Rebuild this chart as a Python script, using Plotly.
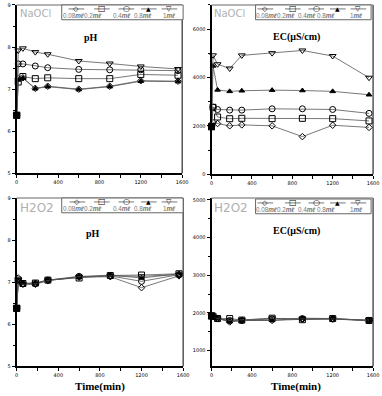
import plotly.graph_objects as go

W, H = 382, 396

time_min = [0, 15, 60, 180, 300, 600, 900, 1200, 1560]
dose_labels = ["0.08", "0.2", "0.4", "0.8", "1"]

# NaOCl pH
naocl_ph_008 = [6.38, 7.25, 7.27, 7.02, 7.07, 7.00, 7.07, 7.20, 7.19]
naocl_ph_02 = [6.38, 7.17, 7.30, 7.25, 7.27, 7.25, 7.25, 7.35, 7.33]
naocl_ph_04 = [6.38, 7.60, 7.60, 7.55, 7.51, 7.47, 7.46, 7.46, 7.44]
naocl_ph_08 = [6.38, 7.22, 7.26, 7.01, 7.06, 6.99, 7.06, 7.19, 7.18]
naocl_ph_1 = [6.38, 7.92, 7.97, 7.88, 7.83, 7.67, 7.61, 7.54, 7.48]

# NaOCl EC (uS/cm)
naocl_ec_008 = [1970, 2140, 2100, 2005, 2045, 2005, 1560, 2030, 1940]
naocl_ec_02 = [1970, 2770, 2370, 2300, 2316, 2303, 2316, 2303, 2208]
naocl_ec_04 = [1970, 2780, 2680, 2655, 2655, 2709, 2709, 2682, 2520]
naocl_ec_08 = [1970, 4480, 3490, 3430, 3455, 3480, 3465, 3430, 3290]
naocl_ec_1 = [1970, 4920, 4550, 4375, 4917, 5010, 5120, 4890, 3995]

# H2O2 pH
h2o2_ph_008 = [6.38, 7.10, 6.96, 6.95, 7.04, 7.12, 7.13, 6.87, 7.15]
h2o2_ph_02 = [6.38, 7.05, 6.97, 6.98, 7.05, 7.10, 7.16, 7.17, 7.20]
h2o2_ph_04 = [6.38, 7.03, 6.96, 6.97, 7.05, 7.14, 7.15, 7.02, 7.18]
h2o2_ph_08 = [6.38, 7.02, 6.97, 6.98, 7.05, 7.12, 7.17, 7.10, 7.20]
h2o2_ph_1 = [6.38, 7.05, 6.95, 6.96, 7.04, 7.13, 7.15, 7.14, 7.18]

# H2O2 EC (uS/cm)
h2o2_ec_008 = [1920, 1900, 1860, 1760, 1800, 1800, 1830, 1840, 1790]
h2o2_ec_02 = [1920, 1910, 1850, 1850, 1810, 1860, 1820, 1850, 1800]
h2o2_ec_04 = [1920, 1900, 1850, 1800, 1800, 1840, 1850, 1840, 1800]
h2o2_ec_08 = [1920, 1890, 1850, 1770, 1800, 1800, 1860, 1850, 1800]
h2o2_ec_1 = [1920, 1900, 1850, 1800, 1810, 1850, 1840, 1840, 1810]

panels = [
    dict(series=[naocl_ph_008, naocl_ph_02, naocl_ph_04, naocl_ph_08, naocl_ph_1],
         px=(15, 184), py=(2, 173), yrange=[5, 9], ytickvals=[5, 6, 7, 8, 9], yminor=0.5,
         name="NaOCl", name_size=10, title="pH", title_xy=(91, 35),
         legbox=(61, 185, 2, 17), sym_x=[76, 102, 127, 150, 171], lab_x=[73, 93, 123, 144, 171]),
    dict(series=[naocl_ec_008, naocl_ec_02, naocl_ec_04, naocl_ec_08, naocl_ec_1],
         px=(214, 379), py=(2, 174), yrange=[0, 7000], ytickvals=[0, 2000, 4000, 6000], yminor=1000,
         name="NaOCl", name_size=10, title="EC(μS/cm)", title_xy=(301, 35),
         legbox=(259, 377, 2, 17), sym_x=[269, 297, 321, 343, 364], lab_x=[270, 290, 312, 331, 362]),
    dict(series=[h2o2_ph_008, h2o2_ph_02, h2o2_ph_04, h2o2_ph_08, h2o2_ph_1],
         px=(15, 185), py=(198, 369), yrange=[5, 9], ytickvals=[5, 6, 7, 8, 9], yminor=0.5,
         name="H2O2", name_size=12, title="pH", title_xy=(93, 234),
         legbox=(61, 185, 198, 213), sym_x=[77, 102, 127, 150, 171], lab_x=[73, 93, 123, 144, 171]),
    dict(series=[h2o2_ec_008, h2o2_ec_02, h2o2_ec_04, h2o2_ec_08, h2o2_ec_1],
         px=(214, 379), py=(198, 369), yrange=[580, 5050], ytickvals=[1000, 2000, 3000, 4000, 5000], yminor=500,
         name="H2O2", name_size=12, title="EC(μS/cm)", title_xy=(301, 231),
         legbox=(259, 377, 199, 214), sym_x=[269, 297, 321, 343, 364], lab_x=[270, 290, 312, 331, 362]),
]

symbols = ["diamond-open", "square-open", "circle-open", "triangle-up", "triangle-down-open"]
sizes = [5, 6, 6, 5, 6]
leg_glyphs = ["◇", "□", "○", "▲", "▽"]
leg_glyph_sizes = [7, 8, 8, 6, 7]

def fx(p):
    return p / W

def fy(p):
    return 1 - p / H

fig = go.Figure()
shapes = []
annotations = []
layout = {}

for i, pn in enumerate(panels):
    k = "" if i == 0 else str(i + 1)
    xa, ya = "x" + k, "y" + k
    for j, s in enumerate(pn["series"]):
        fig.add_trace(go.Scatter(
            x=time_min, y=s, xaxis=xa, yaxis=ya, mode="lines+markers",
            line=dict(color="#555555", width=0.8),
            marker=dict(symbol=symbols[j], size=sizes[j], color="black",
                        line=dict(color="black", width=1)),
            showlegend=False, cliponaxis=False))
    # initial value (filled square)
    first = pn["series"][0]
    fig.add_trace(go.Scatter(
        x=time_min[:1], y=first[:1], xaxis=xa, yaxis=ya, mode="markers",
        marker=dict(symbol="square", size=7, color="black"),
        showlegend=False, cliponaxis=False))

    layout["xaxis" + k] = dict(
        domain=[fx(pn["px"][0]), fx(pn["px"][1])], anchor=ya, range=[0, 1600],
        tickvals=[0, 400, 800, 1200, 1600], ticks="outside", ticklen=3, tickwidth=1,
        minor=dict(dtick=200, tick0=0, ticks="outside", ticklen=3, tickwidth=1, tickcolor="black"),
        showline=True, linecolor="black", linewidth=1.5, showgrid=False, zeroline=False,
        tickfont=dict(size=5, color="black", family="DejaVu Sans"), tickcolor="black")
    layout["yaxis" + k] = dict(
        domain=[fy(pn["py"][1]), fy(pn["py"][0])], anchor=xa, range=pn["yrange"],
        tickvals=pn["ytickvals"], ticks="outside", ticklen=3, tickwidth=1,
        minor=dict(dtick=pn["yminor"], ticks="outside", ticklen=2, tickwidth=1, tickcolor="black"),
        showline=True, linecolor="black", linewidth=2, showgrid=False, zeroline=False,
        tickfont=dict(size=5, color="black", family="DejaVu Sans"), tickcolor="black")

    # right and top borders
    shapes.append(dict(type="line", xref="paper", yref="paper",
                       x0=fx(pn["px"][1]), x1=fx(pn["px"][1]), y0=fy(pn["py"][1]), y1=fy(pn["py"][0]),
                       line=dict(color="black", width=1)))
    shapes.append(dict(type="line", xref="paper", yref="paper",
                       x0=fx(pn["px"][0]), x1=fx(pn["px"][1]), y0=fy(pn["py"][0]), y1=fy(pn["py"][0]),
                       line=dict(color="#999999", width=1.5)))

    # panel name
    annotations.append(dict(text=pn["name"], xref="paper", yref="paper",
                            x=fx(pn["px"][0] + 1), y=fy(pn["py"][0] + 1), xanchor="left", yanchor="top",
                            showarrow=False, font=dict(size=pn["name_size"], color="#b0b0b0", family="DejaVu Sans")))
    # title
    annotations.append(dict(text="<b>" + pn["title"] + "</b>", xref="paper", yref="paper",
                            x=fx(pn["title_xy"][0]), y=fy(pn["title_xy"][1]), xanchor="center", yanchor="middle",
                            showarrow=False, font=dict(size=10, color="black", family="Liberation Serif")))
    # legend box
    lx0, lx1, ly0, ly1 = pn["legbox"]
    shapes.append(dict(type="rect", xref="paper", yref="paper",
                       x0=fx(lx0), x1=fx(lx1), y0=fy(ly1), y1=fy(ly0),
                       line=dict(color="#666666", width=1), fillcolor="white"))
    sy = ly0 + 4
    for j, d in enumerate(dose_labels):
        cx = pn["sym_x"][j]
        shapes.append(dict(type="line", xref="paper", yref="paper",
                           x0=fx(cx - 8), x1=fx(cx + 8), y0=fy(sy), y1=fy(sy),
                           line=dict(color="#555555", width=0.8)))
        annotations.append(dict(text=leg_glyphs[j], xref="paper", yref="paper",
                                x=fx(cx), y=fy(sy), xanchor="center", yanchor="middle", showarrow=False,
                                font=dict(size=leg_glyph_sizes[j], color="black", family="DejaVu Sans"),
                                borderpad=0))
        annotations.append(dict(text=d + "<b><i>mℓ</i></b>", xref="paper", yref="paper",
                                x=fx(pn["lab_x"][j]), y=fy(ly0 + 11), xanchor="center", yanchor="middle",
                                showarrow=False, borderpad=0,
                                font=dict(size=6.3, color="#777777", family="Liberation Sans")))

# x-axis titles
for cx in (100, 300):
    annotations.append(dict(text="<b>Time(min)</b>", xref="paper", yref="paper",
                            x=fx(cx), y=fy(389), xanchor="center", yanchor="middle", showarrow=False,
                            font=dict(size=11, color="black", family="Liberation Serif")))

fig.update_layout(width=W, height=H, margin=dict(l=0, r=0, t=0, b=0),
                  paper_bgcolor="white", plot_bgcolor="white",
                  shapes=shapes, annotations=annotations, **layout)

fig.write_html("out.html")
